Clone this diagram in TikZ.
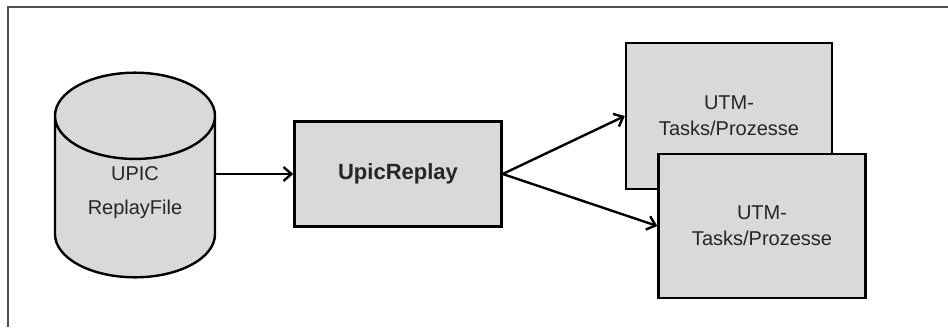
\documentclass[tikz,border=0pt]{standalone}
\usepackage{fontspec}
\setmainfont{Liberation Sans}
\usetikzlibrary{arrows.meta, positioning, shapes.geometric}
\definecolor{boxgray}{HTML}{D9D9D9}
\definecolor{framegray}{HTML}{505050}
\definecolor{textgray}{HTML}{262626}
\tikzset{
  box/.style={rectangle,draw,fill=boxgray,line width=1.2pt,align=center,text=textgray,font=\fontsize{10}{13}\selectfont},
  store/.style={cylinder,shape border rotate=90,aspect=0.8,draw,fill=boxgray,line width=1.2pt,align=center,text=textgray,font=\fontsize{10}{17}\selectfont},
  line/.style={-{Straight Barb[length=4pt,width=7pt]},line width=1.2pt}
}

\begin{document}
\begin{tikzpicture}[x=0.5pt,y=-0.5pt]
\useasboundingbox (0,0) rectangle (948,327);
\draw[framegray, line width=0.8pt] (8,327) -- (8,7) -- (948,7);
\node[store, minimum width=80pt, minimum height=100pt, text depth=15pt, anchor=shape center] (file) at (135,175) {UPIC\\ReplayFile};
\node[box, minimum width=103.5pt, minimum height=52.5pt, font=\fontsize{11}{13}\selectfont\bfseries] (replay) at (398,174) {UpicReplay};
\node[box, minimum width=103pt, minimum height=73pt] (utmA) at (729,116) {UTM-\\Tasks/Prozesse};
\node[box, minimum width=103.5pt, minimum height=72pt] (utmB) at (762,226) {UTM-\\Tasks/Prozesse};
\draw[line] (file.east |- replay.west) -- (replay.west);
\draw[line] (replay.east) -- (utmA.west);
\draw[line] (replay.east) -- (utmB.west);
\end{tikzpicture}
\end{document}
